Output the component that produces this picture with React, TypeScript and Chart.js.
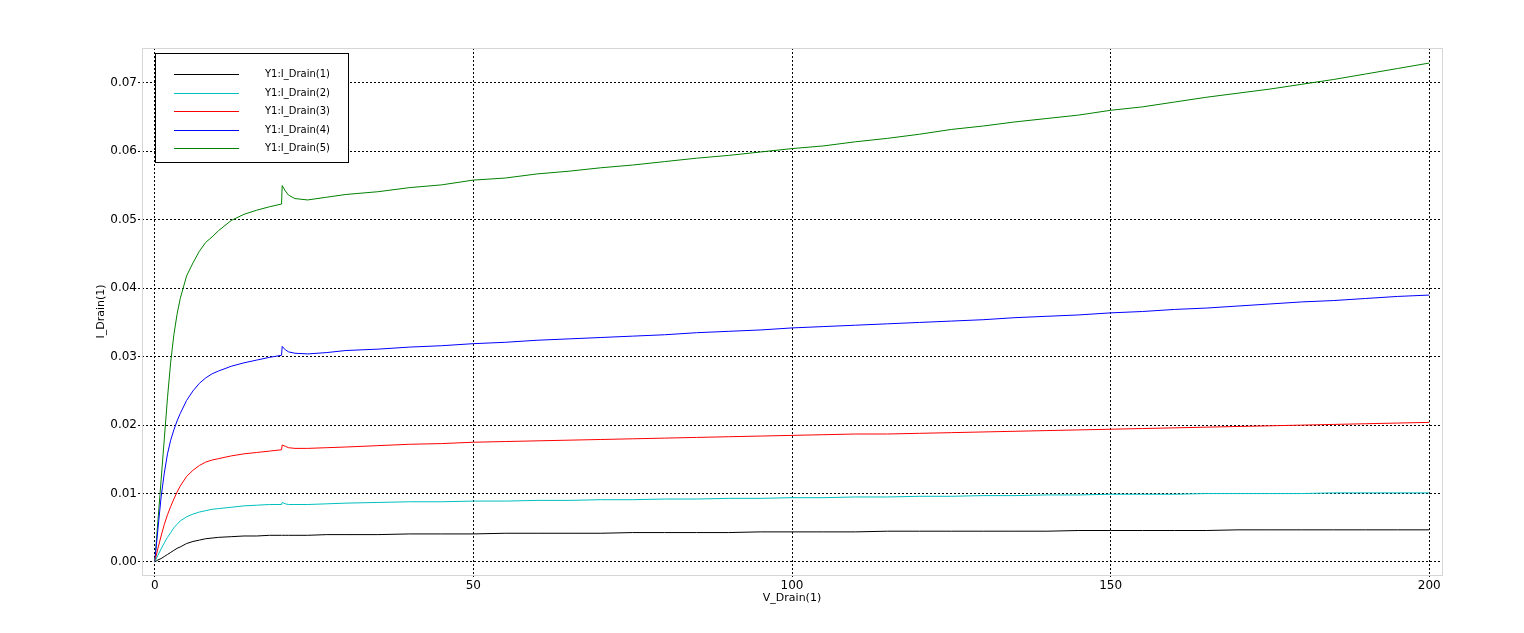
import React, { useEffect, useRef } from "react";
import { Chart, registerables } from "chart.js";

Chart.register(...registerables);

const vDrain = [
  0, 0.5, 1, 1.5, 2, 2.5, 3, 3.5, 4, 5, 6, 7, 8, 9, 10, 12, 14, 16, 18, 19.9, 20, 20.5, 21, 22, 24, 27,
  30, 35, 40, 45, 50, 55, 60, 65, 70, 75, 80, 85, 90, 95, 100, 105, 110, 115, 120, 125, 130, 135, 140,
  145, 150, 155, 160, 165, 170, 175, 180, 185, 190, 195, 200,
];

const iDrain1 = [
  0, 0.0003, 0.0005, 0.0008, 0.0011, 0.0014, 0.0017, 0.002, 0.0022, 0.0027, 0.003, 0.0032, 0.0034, 0.0035,
  0.0036, 0.0037, 0.0038, 0.0038, 0.0039, 0.0039, 0.0039, 0.0039, 0.0039, 0.0039, 0.0039, 0.004,
  0.004, 0.004, 0.0041, 0.0041, 0.0041, 0.0042, 0.0042, 0.0042, 0.0042, 0.0043, 0.0043, 0.0043, 0.0043,
  0.0044, 0.0044, 0.0044, 0.0044, 0.0045, 0.0045, 0.0045, 0.0045, 0.0045, 0.0045, 0.0046, 0.0046, 0.0046,
  0.0046, 0.0046, 0.0047, 0.0047, 0.0047, 0.0047, 0.0047, 0.0047, 0.0047,
];

const iDrain2 = [
  0, 0.001, 0.0019, 0.0028, 0.0036, 0.0043, 0.005, 0.0055, 0.006, 0.0066, 0.007, 0.0073, 0.0075, 0.0077,
  0.0078, 0.008, 0.0082, 0.0083, 0.0084, 0.0084, 0.0087, 0.0085, 0.0084, 0.0084, 0.0084, 0.0085,
  0.0086, 0.0087, 0.0088, 0.0088, 0.0089, 0.0089, 0.009, 0.009, 0.0091, 0.0091, 0.0092, 0.0092, 0.0093,
  0.0093, 0.0094, 0.0094, 0.0095, 0.0095, 0.0096, 0.0096, 0.0097, 0.0097, 0.0098, 0.0098, 0.0099, 0.0099,
  0.0099, 0.01, 0.01, 0.01, 0.01, 0.0101, 0.0101, 0.0101, 0.0101,
];

const iDrain3 = [
  0, 0.002, 0.0038, 0.0055, 0.0069, 0.0081, 0.0092, 0.0102, 0.0111, 0.0125, 0.0134, 0.0141, 0.0146, 0.0149,
  0.0151, 0.0155, 0.0158, 0.016, 0.0162, 0.0164, 0.0171, 0.0169, 0.0167, 0.0166, 0.0166, 0.0167,
  0.0168, 0.017, 0.0172, 0.0173, 0.0175, 0.0176, 0.0177, 0.0178, 0.0179, 0.018, 0.0181, 0.0182, 0.0183,
  0.0184, 0.0185, 0.0186, 0.0187, 0.0187, 0.0188, 0.0189, 0.019, 0.0191, 0.0192, 0.0193, 0.0194, 0.0195,
  0.0196, 0.0197, 0.0198, 0.0199, 0.02, 0.0201, 0.0202, 0.0203, 0.0204,
];

const iDrain4 = [
  0, 0.0048, 0.0095, 0.013, 0.0158, 0.0178, 0.0193, 0.0206, 0.0217, 0.0236, 0.025, 0.0261, 0.0269, 0.0275,
  0.0279, 0.0286, 0.0291, 0.0295, 0.0299, 0.0302, 0.0315, 0.031, 0.0307, 0.0305, 0.0304, 0.0306,
  0.0309, 0.0311, 0.0314, 0.0316, 0.0319, 0.0321, 0.0324, 0.0326, 0.0328, 0.033, 0.0332, 0.0335, 0.0337,
  0.0339, 0.0342, 0.0344, 0.0346, 0.0348, 0.035, 0.0352, 0.0354, 0.0357, 0.0359, 0.0361, 0.0364, 0.0366,
  0.0369, 0.0371, 0.0374, 0.0377, 0.038, 0.0382, 0.0385, 0.0388, 0.039,
];

const iDrain5 = [
  0, 0.006, 0.012, 0.018, 0.024, 0.0292, 0.0332, 0.0362, 0.0385, 0.0418, 0.0437, 0.0454, 0.0467, 0.0475,
  0.0484, 0.0499, 0.0508, 0.0514, 0.0519, 0.0523, 0.055, 0.0542, 0.0536, 0.0531, 0.0529, 0.0533,
  0.0537, 0.0541, 0.0547, 0.0551, 0.0558, 0.0561, 0.0567, 0.0571, 0.0576, 0.058, 0.0585, 0.059, 0.0594,
  0.0599, 0.0604, 0.0608, 0.0614, 0.0619, 0.0625, 0.0632, 0.0637, 0.0643, 0.0648, 0.0653, 0.066, 0.0665,
  0.0672, 0.0679, 0.0685, 0.0691, 0.0698, 0.0705, 0.0713, 0.0721, 0.0729,
];

const seriesLabels = ["Y1:I_Drain(1)", "Y1:I_Drain(2)", "Y1:I_Drain(3)", "Y1:I_Drain(4)", "Y1:I_Drain(5)"];
const seriesColors = ["#000000", "#00bfbf", "#ff0000", "#0000ff", "#008000"];
const seriesValues = [iDrain1, iDrain2, iDrain3, iDrain4, iDrain5];

const xTicks = [0, 50, 100, 150, 200];
const yTicks = [0, 0.01, 0.02, 0.03, 0.04, 0.05, 0.06, 0.07];
const xTitle = "V_Drain(1)";
const yTitle = "I_Drain(1)";

const FONT = "'DejaVu Sans', sans-serif";

const framePlugin = {
  id: "frame",
  beforeDatasetsDraw(chart: any) {
    const { ctx, chartArea } = chart;
    ctx.save();
    ctx.setLineDash([]);
    ctx.strokeStyle = "#d6d6d6";
    ctx.lineWidth = 1;
    ctx.strokeRect(
      Math.round(chartArea.left) + 0.5,
      Math.round(chartArea.top) + 0.5,
      Math.round(chartArea.right - chartArea.left),
      Math.round(chartArea.bottom - chartArea.top)
    );
    ctx.restore();
  },
};

const boxLegendPlugin = {
  id: "boxLegend",
  afterDatasetsDraw(chart: any) {
    const { ctx } = chart;
    const x0 = 155.5;
    const y0 = 53.5;
    const w = 193;
    const h = 109;
    ctx.save();
    ctx.setLineDash([]);
    ctx.globalAlpha = 1;
    ctx.fillStyle = "#ffffff";
    ctx.fillRect(x0, y0, w, h);
    ctx.strokeStyle = "#000000";
    ctx.lineWidth = 1;
    ctx.strokeRect(x0, y0, w, h);
    ctx.font = `10px ${FONT}`;
    ctx.textBaseline = "middle";
    ctx.textAlign = "left";
    seriesLabels.forEach((label, i) => {
      const y = Math.round(74 + i * 18.5) + 0.5;
      ctx.strokeStyle = seriesColors[i];
      ctx.beginPath();
      ctx.moveTo(174, y);
      ctx.lineTo(239, y);
      ctx.stroke();
      ctx.fillStyle = "#000000";
      ctx.fillText(label, 265, y);
    });
    ctx.restore();
  },
};

export default function App() {
  const ref = useRef<HTMLCanvasElement | null>(null);

  useEffect(() => {
    if (!ref.current) return;
    const chart = new Chart(ref.current, {
      type: "line",
      data: {
        datasets: seriesValues.map((vals, i) => ({
          label: seriesLabels[i],
          data: vals.map((y, j) => ({ x: vDrain[j], y })),
          borderColor: seriesColors[i],
          backgroundColor: seriesColors[i],
          borderWidth: 1,
          pointRadius: 0,
          tension: 0,
          fill: false,
        })),
      },
      options: {
        animation: false,
        responsive: false,
        events: [],
        layout: { padding: { left: 0, top: 48, right: 82, bottom: 0 } },
        plugins: {
          legend: { display: false },
          tooltip: { enabled: false },
          title: { display: false },
        },
        scales: {
          x: {
            type: "linear",
            min: -2,
            max: 202,
            afterBuildTicks: (scale: any) => {
              scale.ticks = xTicks.map((v) => ({ value: v }));
            },
            afterFit: (scale: any) => {
              scale.height = 58;
            },
            grid: {
              color: "#000000",
              lineWidth: 1,
              tickLength: 4,
              tickColor: "#000000",
              tickBorderDash: [2, 2],
            },
            border: { display: false, dash: [2, 2] },
            ticks: {
              color: "#000000",
              font: { family: FONT, size: 12 },
              padding: 0,
              maxRotation: 0,
              callback: (v: any) => String(v),
            },
            title: {
              display: true,
              text: xTitle,
              color: "#000000",
              font: { family: FONT, size: 11 },
              padding: { top: 0, bottom: 28 },
            },
          },
          y: {
            type: "linear",
            min: -0.0019,
            max: 0.0751,
            afterBuildTicks: (scale: any) => {
              scale.ticks = yTicks.map((v) => ({ value: v }));
            },
            afterFit: (scale: any) => {
              scale.width = 142;
            },
            grid: {
              color: "#000000",
              lineWidth: 1,
              tickLength: 4,
              tickColor: "#000000",
              tickBorderDash: [2, 2],
            },
            border: { display: false, dash: [2, 2] },
            ticks: {
              color: "#000000",
              font: { family: FONT, size: 12 },
              padding: 1,
              callback: (v: any) => Number(v).toFixed(2),
            },
            title: {
              display: true,
              text: yTitle,
              color: "#000000",
              font: { family: FONT, size: 11 },
              padding: { top: 95, bottom: 0 },
            },
          },
        },
      },
      plugins: [framePlugin, boxLegendPlugin],
    });
    return () => chart.destroy();
  }, []);

  return (
    <div style={{ position: "absolute", left: 0, top: 0, width: 1524, height: 633, background: "#ffffff" }}>
      <canvas ref={ref} width={1524} height={633} style={{ display: "block" }} />
    </div>
  );
}
